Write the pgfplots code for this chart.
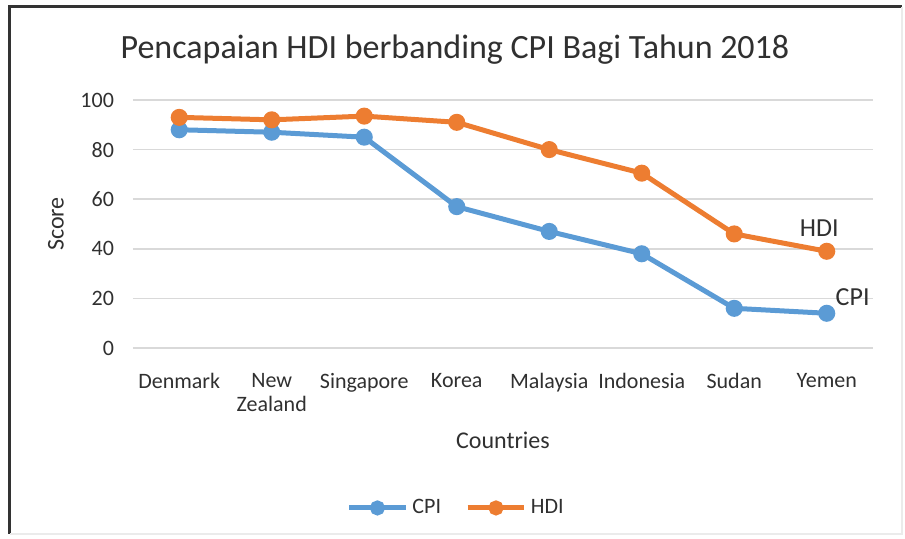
\documentclass[border=0pt]{standalone}
\usepackage{fontspec}
\setmainfont{Carlito}
\usepackage{pgfplots}
\pgfplotsset{compat=1.18}
\definecolor{cpiblue}{HTML}{5B9BD5}
\definecolor{hdiorange}{HTML}{ED7D31}
\definecolor{txt}{HTML}{303030}
\definecolor{gridc}{HTML}{D9D9D9}
\begin{document}
\begin{tikzpicture}
\path[use as bounding box] (-66.5pt,-95.5pt) rectangle (386pt,174pt);
% chart frame
\draw[line width=1.5pt, black!80] (-61.5pt,-93pt) -- (-61.5pt,170.5pt) -- (384.5pt,170.5pt);
\draw[line width=0.6pt, black!8] (384.5pt,170.5pt) -- (384.5pt,-93pt) -- (-61.5pt,-93pt);
\node[font=\fontsize{17}{20}\selectfont, text=txt] at (161pt,149pt) {Pencapaian HDI berbanding CPI Bagi Tahun 2018};
\begin{axis}[
    scale only axis,
    width=370pt, height=124pt,
    xmin=-0.5, xmax=7.5,
    ymin=0, ymax=100,
    xtick={0,1,2,3,4,5,6,7},
    xticklabels={Denmark,{New\\Zealand},Singapore,Korea,Malaysia,Indonesia,Sudan,Yemen},
    ytick={0,20,40,60,80,100},
    major tick length=0pt,
    axis line style={draw=none},
    ymajorgrids,
    grid style={gridc, line width=0.8pt},
    ticklabel style={font=\fontsize{11}{12}\selectfont, text=txt},
    xticklabel style={align=center, yshift=-9pt},
    yticklabel style={xshift=-6pt},
    /pgf/number format/assume math mode=true,
    xlabel={Countries},
    ylabel={Score},
    label style={font=\fontsize{12}{14}\selectfont, text=txt},
    xlabel style={yshift=-3.5pt},
    ylabel style={yshift=1.5pt},
    legend columns=2,
    legend style={at={(0.438,-0.645)}, anchor=center, draw=none, fill=none,
        font=\fontsize{11}{12}\selectfont, text=txt,
        /tikz/every even column/.append style={column sep=10pt}},
    legend image code/.code={
        \draw[#1, mark size=2.5pt, mark repeat=2, mark phase=2] plot coordinates {(0cm,0cm) (0.5cm,0cm) (1cm,0cm)};
    },
]
\addplot[cpiblue, line width=2.5pt, mark=*, mark size=3pt] coordinates {
(0,88) (1,87) (2,85) (3,57) (4,47) (5,38) (6,16) (7,14)
};
\addlegendentry{CPI}
\addplot[hdiorange, line width=2.5pt, mark=*, mark size=3pt] coordinates {
(0,93) (1,92) (2,93.5) (3,91) (4,80) (5,70.5) (6,46) (7,39)
};
\addlegendentry{HDI}
\node[font=\fontsize{13}{15}\selectfont, text=txt] at (axis cs:6.92,48.5) {HDI};
\node[font=\fontsize{13}{15}\selectfont, text=txt] at (axis cs:7.28,20.4) {CPI};
\end{axis}
\end{tikzpicture}
\end{document}
